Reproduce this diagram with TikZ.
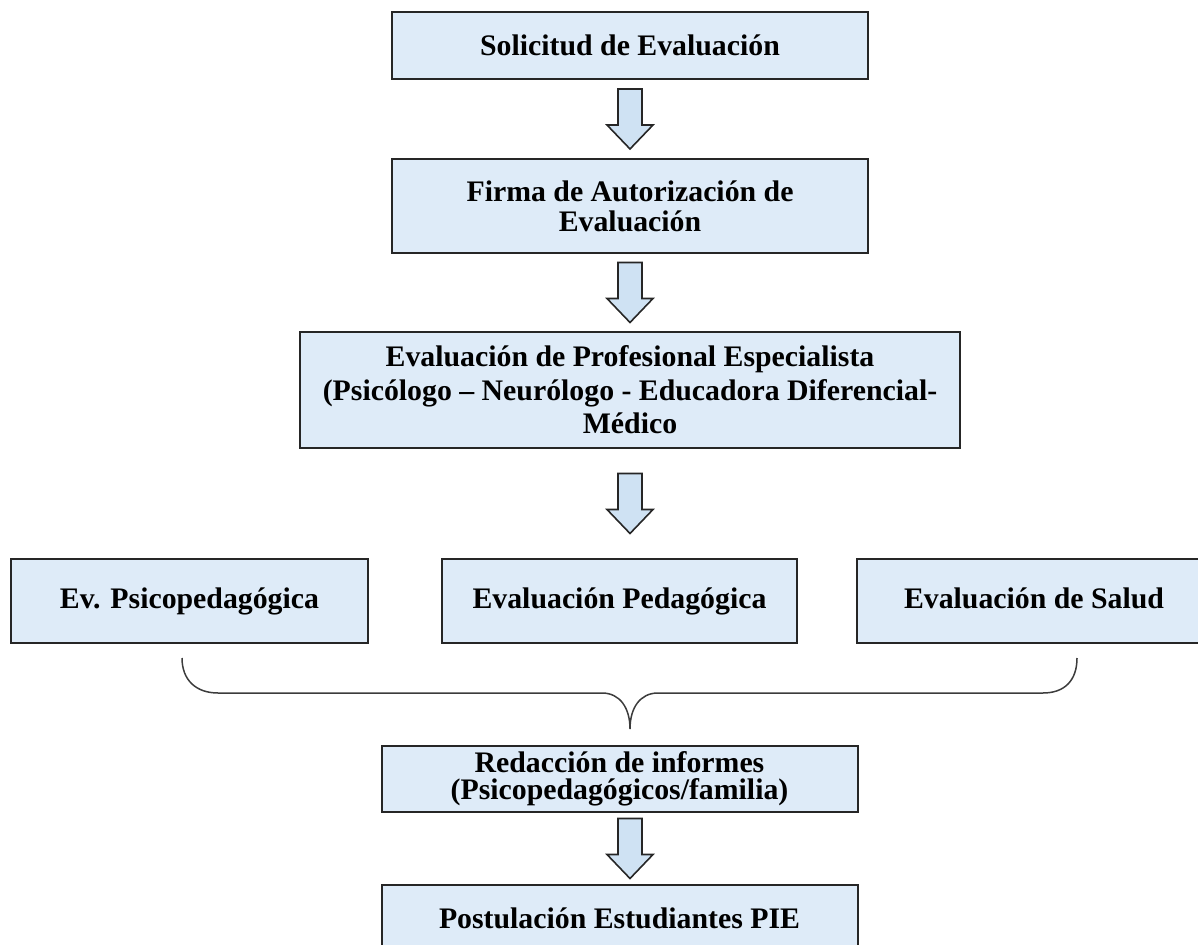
\documentclass[tikz,border=0pt]{standalone}
\usepackage{fontspec}
\setmainfont{Liberation Serif}
\usetikzlibrary{calc}
\usetikzlibrary{positioning}
\definecolor{azulcaja}{RGB}{222,235,248}
\definecolor{azulflecha}{RGB}{207,226,243}
\definecolor{borde}{RGB}{38,38,38}
\tikzset{
	bloque/.style={
		rectangle,
		fill=azulcaja,
		draw=borde, line width=1pt,
		align=center,
		inner sep=0pt,
		font=\bfseries\fontsize{14.9}{15}\selectfont},
	ancha/.style={minimum width=238pt},
	fila/.style={minimum height=42pt, text height=0.95em, text depth=0.22em},
	flecha/.style={draw=borde, line width=0.8pt, fill=azulflecha, line join=miter},
	llave/.style={draw=borde!90, line width=0.75pt},
}
\newcommand{\flechaabajo}[2]{%
	\draw[flecha] ($(solicitud.south |- #1.south)!.5!(solicitud.south |- #2.north)$)
		++(-12,-30) -- ++(24,0) -- ++(0,36) -- ++(11,0) -- ++(-23,24) -- ++(-23,-24) -- ++(11,0) -- cycle;}

\begin{document}
\begin{tikzpicture}[x=0.5pt,y=-0.5pt]
	\useasboundingbox (0,0) rectangle (1198,945);
	\node[bloque, ancha, minimum height=33.5pt] (solicitud) at (630,45.5) {Solicitud de Evaluación};
	\node[bloque, ancha, minimum height=47pt, below=39pt of solicitud] (firma) {Firma de Autorización de\\Evaluación};
	\node[bloque, minimum width=330pt, minimum height=58pt, below=38.5pt of firma,
		font=\bfseries\fontsize{14.9}{16.75}\selectfont] (profesional)
		{Evaluación de Profesional Especialista\\(Psicólogo – Neurólogo - Educadora Diferencial-\\Médico};
	\node[bloque, fila, minimum width=177.5pt, below=54.5pt of profesional, xshift=-5.25pt] (pedag) {Evaluación Pedagógica};
	\node[bloque, fila, minimum width=178.5pt, left=36pt of pedag] (psico) {Ev. Psicopedagógica};
	\node[bloque, fila, minimum width=177pt, right=29pt of pedag] (salud) {Evaluación de Salud};
	\node[bloque, ancha, minimum height=33pt, below=50.5pt of pedag,
		font=\bfseries\fontsize{14.9}{13.5}\selectfont] (redaccion) {Redacción de informes\\(Psicopedagógicos/familia)};
	\node[bloque, ancha, minimum height=33.5pt, below=35.5pt of redaccion] (postula) {Postulación Estudiantes PIE};

	\flechaabajo{solicitud}{firma}
	\flechaabajo{firma}{profesional}
	\flechaabajo{profesional}{pedag}
	\flechaabajo{redaccion}{postula}

	% llave que junta las tres evaluaciones
	\draw[llave] (182,658) .. controls (182,680) and (196,693) .. (218,693) -- (602,693)
		.. controls (620,693) and (630,708) .. (630,729)
		.. controls (630,708) and (640,693) .. (658,693) -- (1043,693)
		.. controls (1065,693) and (1077,680) .. (1077,658);
\end{tikzpicture}
\end{document}
